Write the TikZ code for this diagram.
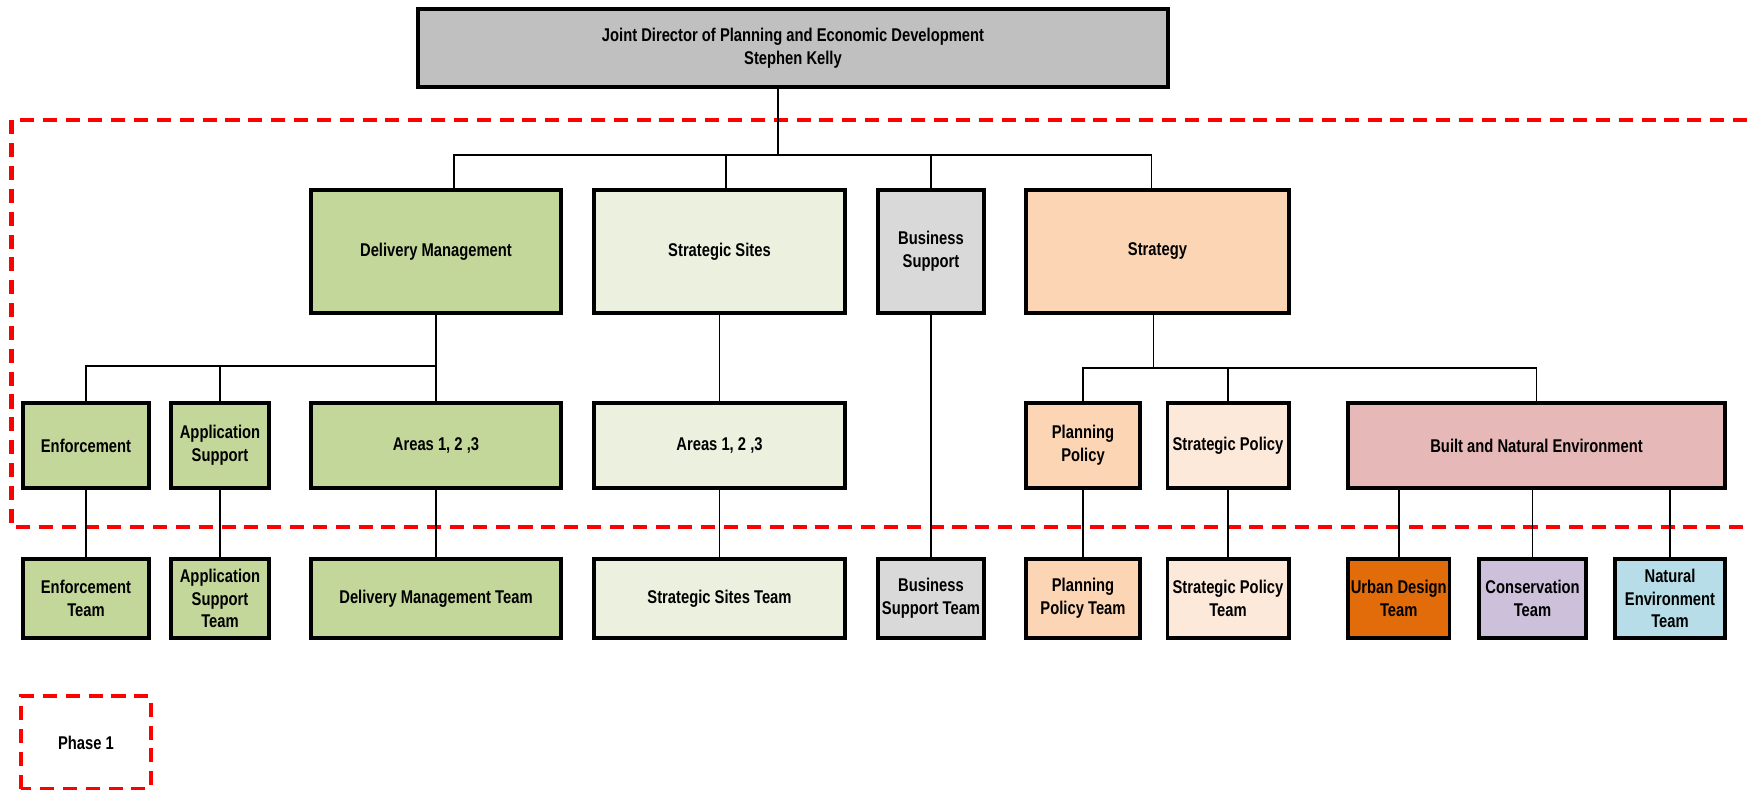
\documentclass[tikz,border=0pt]{standalone}
\usepackage{fontspec}
\setmainfont{Liberation Sans}[FakeStretch=0.8]
\usepackage{tikz}

\definecolor{dirgrey}{HTML}{C0C0C0}
\definecolor{dmgreen}{HTML}{C4D79B}
\definecolor{sslight}{HTML}{EBF1DE}
\definecolor{bsgrey}{HTML}{D9D9D9}
\definecolor{peach}{HTML}{FCD5B4}
\definecolor{peachlight}{HTML}{FDE9D9}
\definecolor{rosy}{HTML}{E6B8B7}
\definecolor{urbanorange}{HTML}{E26B0A}
\definecolor{lilac}{HTML}{CCC0DA}
\definecolor{paleblue}{HTML}{B7DEE8}

\tikzset{
	box/.style={draw, line width=2pt, inner sep=0pt, align=center, font=\bfseries\fontsize{10.5}{13}\selectfont},
	lvlone/.style={box, minimum height=2.46cm},
	lvltwo/.style={box, minimum height=1.7cm},
	lvlthree/.style={box, minimum height=1.58cm},
	link/.style={line width=1pt},
	phaseline/.style={draw=red, line width=2.3pt, dash pattern=on 8pt off 5pt}
}

\begin{document}
\begin{tikzpicture}[x=0.02cm, y=-0.02cm]
		\useasboundingbox (0,0) rectangle (1747,789);
		%Fase 1 ramme
		\draw [phaseline] (1747,120) -- (11.5,120) -- (11.5,527) -- (1747,527);
		%Direktor
		\node [box, fill=dirgrey, minimum width=15cm, minimum height=1.56cm] (top) at (793,48) {Joint Director of Planning and Economic Development\\Stephen Kelly};
		%Nivaa 1
		\node [lvlone, fill=dmgreen, minimum width=5cm] (dm) at (436,251.5) {Delivery Management};
		\node [lvlone, fill=sslight, minimum width=5.02cm] (ss) at (719.5,251.5) {Strategic Sites};
		\node [lvlone, fill=bsgrey, minimum width=2.13cm] (bs) at (931,251.5) {Business\\Support};
		\node [lvlone, fill=peach, minimum width=5.26cm] (strat) at (1157.5,251.5) {Strategy};
		%Nivaa 2
		\node [lvltwo, fill=dmgreen, minimum width=2.52cm] (enf) at (86,445.5) {Enforcement};
		\node [lvltwo, fill=dmgreen, minimum width=1.97cm] (app) at (220,445.5) {Application\\Support};
		\node [lvltwo, fill=dmgreen, minimum width=5cm] (dmareas) at (436,445.5) {Areas 1, 2 ,3};
		\node [lvltwo, fill=sslight, minimum width=5.02cm] (ssareas) at (719.5,445.5) {Areas 1, 2 ,3};
		\node [lvltwo, fill=peach, minimum width=2.28cm] (pp) at (1083,445.5) {Planning\\Policy};
		\node [lvltwo, fill=peachlight, minimum width=2.43cm] (sp) at (1228,445.5) {Strategic Policy};
		\node [lvltwo, fill=rosy, minimum width=7.54cm] (bne) at (1536.5,445.5) {Built and Natural Environment};
		%Nivaa 3
		\node [lvlthree, fill=dmgreen, minimum width=2.52cm] (enft) at (86,598.5) {Enforcement\\Team};
		\node [lvlthree, fill=dmgreen, minimum width=1.97cm] (appt) at (220,598.5) {Application\\Support\\Team};
		\node [lvlthree, fill=dmgreen, minimum width=5cm] (dmt) at (436,598.5) {Delivery Management Team};
		\node [lvlthree, fill=sslight, minimum width=5.02cm] (sst) at (719.5,598.5) {Strategic Sites Team};
		\node [lvlthree, fill=bsgrey, minimum width=2.13cm] (bst) at (931,598.5) {Business\\Support Team};
		\node [lvlthree, fill=peach, minimum width=2.28cm] (ppt) at (1083,598.5) {Planning\\Policy Team};
		\node [lvlthree, fill=peachlight, minimum width=2.43cm] (spt) at (1228,598.5) {Strategic Policy\\Team};
		\node [lvlthree, fill=urbanorange, minimum width=2.03cm] (udt) at (1398.75,598.5) {Urban Design\\Team};
		\node [lvlthree, fill=lilac, minimum width=2.14cm] (ct) at (1532.5,598.5) {Conservation\\Team};
		\node [lvlthree, fill=paleblue, minimum width=2.2cm] (net) at (1670,598.5) {Natural\\Environment\\Team};
		%Forklaring
		\node [box, draw=none, minimum width=2.52cm, minimum height=1.78cm] (phase) at (86,742.5) {Phase 1};
		\draw [phaseline] (phase.south west) rectangle (phase.north east);
		%Linjer
		\coordinate (b1) at (0,155);
		\coordinate (b2) at (0,366);
		\coordinate (b3) at (0,368);
		\draw [link] ([xshift=-0.3cm]top.south) -- ([xshift=-0.3cm]top.south |- b1);
		\draw [link] ([xshift=0.36cm]dm.north) |- ([xshift=-0.12cm]strat.north |- b1) -- ([xshift=-0.12cm]strat.north);
		\draw [link] ([xshift=0.13cm]ss.north) -- ([xshift=0.13cm]ss.north |- b1);
		\draw [link] (bs.north) -- (bs.north |- b1);
		\draw [link] (dm.south) -- (dmareas.north);
		\draw [link] (enf.north) |- (dm.south |- b2);
		\draw [link] (app.north) -- (app.north |- b2);
		\draw [link] (ss.south) -- (ssareas.north);
		\draw [link] ([xshift=-0.08cm]strat.south) -- ([xshift=-0.08cm]strat.south |- b3);
		\draw [link] (pp.north) |- (bne.north |- b3) -- (bne.north);
		\draw [link] (sp.north) -- (sp.north |- b3);
		\draw [link] (enf.south) -- (enft.north);
		\draw [link] (app.south) -- (appt.north);
		\draw [link] (dmareas.south) -- (dmt.north);
		\draw [link] (ssareas.south) -- (sst.north);
		\draw [link] (bs.south) -- (bst.north);
		\draw [link] (pp.south) -- (ppt.north);
		\draw [link] (sp.south) -- (spt.north);
		\draw [link] (udt.north) -- (udt.north |- bne.south);
		\draw [link] (ct.north) -- (ct.north |- bne.south);
		\draw [link] (net.north) -- (net.north |- bne.south);
	\end{tikzpicture}
\end{document}
